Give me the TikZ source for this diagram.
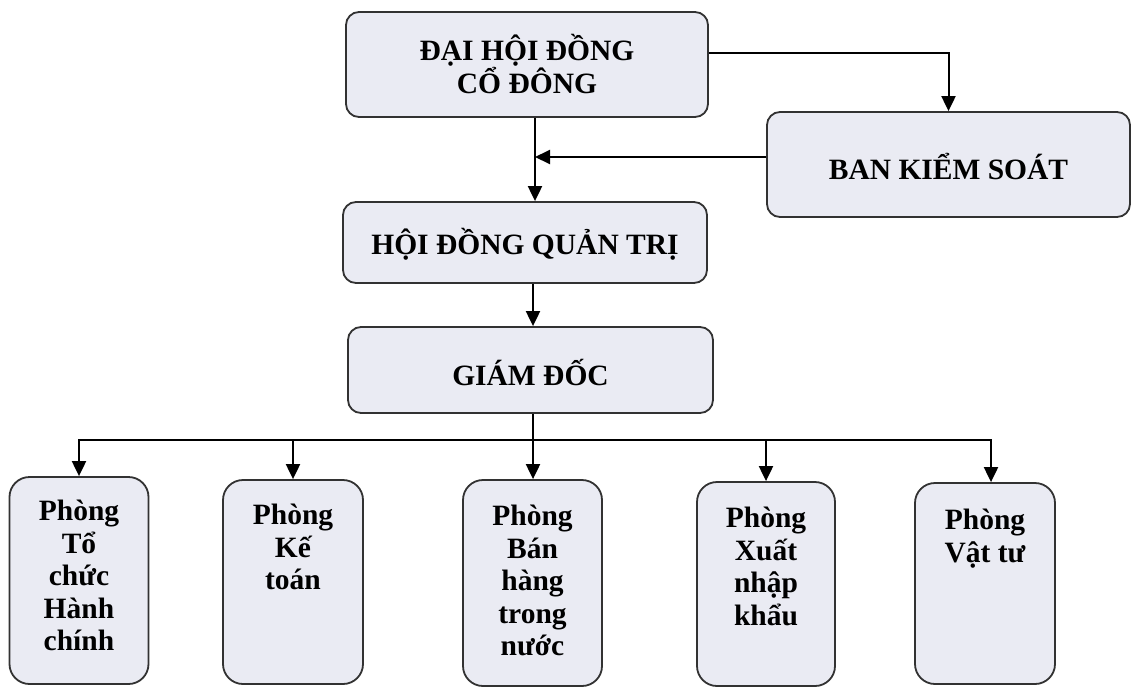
\documentclass[tikz,border=0pt]{standalone}
\usepackage{fontspec}
\setmainfont{Liberation Serif}
\usetikzlibrary{arrows.meta,calc}
\definecolor{boxfill}{RGB}{234,235,243}
\definecolor{boxline}{RGB}{50,50,50}
\tikzset{
  box/.style={draw=boxline, line width=1.8pt, fill=boxfill, rounded corners=13pt, inner sep=0pt},
  dept/.style={box, rounded corners=20pt, minimum width=139pt, minimum height=205pt},
  lbl/.style={font=\bfseries\fontsize{29.5}{32.5}\selectfont, align=center, inner sep=0pt},
  conn/.style={line width=2pt, draw=black},
  arr/.style={conn, -{Triangle[length=15pt,width=14pt]}}
}
\begin{document}
\begin{tikzpicture}[x=1pt,y=-1pt]
\useasboundingbox[fill=white] (0,0) rectangle (1135,686);
% top-level boxes
\node[box, minimum width=362pt, minimum height=105pt] (A) at (527,64.5) {};
\node[lbl] (At) at (527,64) {ĐẠI HỘI ĐỒNG\\CỔ ĐÔNG};
\node[box, minimum width=363pt, minimum height=105pt] (B) at (948.5,164.5) {};
\node[lbl] (Bt) at (948.5,167) {BAN KIỂM SOÁT};
\node[box, minimum width=364pt, minimum height=81pt] (C) at (525,242.5) {};
\node[lbl] (Ct) at (525,244) {HỘI ĐỒNG QUẢN TRỊ};
\node[box, minimum width=365pt, minimum height=86pt] (D) at (530.5,370) {};
\node[lbl] (Dt) at (530.5,372) {GIÁM ĐỐC};
% departments
\node[dept, minimum height=207pt] (E1) at (79,580.5) {};
\node[dept, minimum width=140pt, minimum height=204pt] (E2) at (293,582) {};
\node[dept, minimum height=206pt] (E3) at (532.5,583) {};
\node[dept, minimum width=138pt, minimum height=204pt] (E4) at (766,584) {};
\node[dept, minimum width=140pt, minimum height=201pt] (E5) at (985,583.5) {};
\node[lbl, anchor=north] (E1t) at ($(E1.north)+(0,24)$) {Phòng\\Tổ\\chức\\Hành\\chính};
\node[lbl, anchor=north] (E2t) at ($(E2.north)+(0,25)$) {Phòng\\Kế\\toán};
\node[lbl, anchor=north] (E3t) at ($(E3.north)+(0,26)$) {Phòng\\Bán\\hàng\\trong\\nước};
\node[lbl, anchor=north] (E4t) at ($(E4.north)+(0,26)$) {Phòng\\Xuất\\nhập\\khẩu};
\node[lbl, anchor=north] (E5t) at ($(E5.north)+(0,27)$) {Phòng\\Vật tư};
% connectors
\coordinate (va) at (535,0);
\coordinate (m) at (535,157);
\coordinate (vc) at (533,0);
\coordinate (bus) at (533,440);
\draw[arr] ([yshift=11.5pt]A.east) -| (B.north);
\draw[arr] (A.south -| va) -- (C.north -| va);
\draw[arr] (B.west |- m) -- (m);
\draw[arr] (C.south -| vc) -- (D.north -| vc);
\draw[conn] (D.south -| vc) -- (bus);
\draw[arr] (bus) -| (E1.north);
\draw[arr] (bus) -| (E2.north);
\draw[arr] (bus) -- (E3.north -| bus);
\draw[arr] (bus) -| (E4.north);
\draw[arr] (bus) -| ([xshift=6pt]E5.north);
\end{tikzpicture}
\end{document}
